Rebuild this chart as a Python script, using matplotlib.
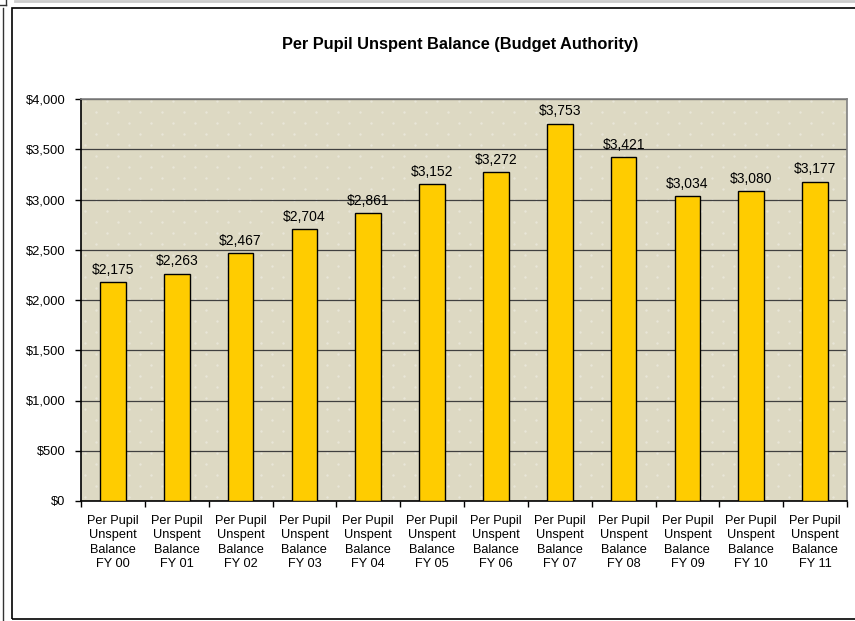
import matplotlib
matplotlib.use("Agg")
import matplotlib.pyplot as plt
import numpy as np
from matplotlib.patches import Rectangle
from matplotlib.lines import Line2D

plt.rcParams['font.family'] = ['Liberation Sans', 'DejaVu Sans']

categories = ["Per Pupil\nUnspent\nBalance\nFY 00", "Per Pupil\nUnspent\nBalance\nFY 01",
              "Per Pupil\nUnspent\nBalance\nFY 02", "Per Pupil\nUnspent\nBalance\nFY 03",
              "Per Pupil\nUnspent\nBalance\nFY 04", "Per Pupil\nUnspent\nBalance\nFY 05",
              "Per Pupil\nUnspent\nBalance\nFY 06", "Per Pupil\nUnspent\nBalance\nFY 07",
              "Per Pupil\nUnspent\nBalance\nFY 08", "Per Pupil\nUnspent\nBalance\nFY 09",
              "Per Pupil\nUnspent\nBalance\nFY 10", "Per Pupil\nUnspent\nBalance\nFY 11"]
values = [2175, 2263, 2467, 2704, 2861, 3152, 3272, 3753, 3421, 3034, 3080, 3177]
yticks = [0, 500, 1000, 1500, 2000, 2500, 3000, 3500, 4000]
ytick_labels = ["$0", "$500", "$1,000", "$1,500", "$2,000", "$2,500", "$3,000", "$3,500", "$4,000"]
title = "Per Pupil Unspent Balance (Budget Authority)"

W, H = 855, 621
fig = plt.figure(figsize=(W / 100, H / 100), dpi=100)

# outer frames
fig.add_artist(Rectangle((12 / W, 1 - 619 / H), 1.2, (619 - 8) / H, transform=fig.transFigure,
                         fill=False, edgecolor='black', linewidth=1.2))
fig.add_artist(Line2D([2.5 / W, 2.5 / W], [0, 1 - 8 / H], transform=fig.transFigure,
                      color='#333333', linewidth=1))
fig.add_artist(Line2D([0, 6 / W], [1 - 4.5 / H, 1 - 4.5 / H], transform=fig.transFigure,
                      color='#333333', linewidth=1))
fig.add_artist(Line2D([6 / W, 6 / W], [1 - 4.5 / H, 1], transform=fig.transFigure,
                      color='#333333', linewidth=1))
fig.add_artist(Line2D([15 / W, 1], [1 - 1 / H, 1 - 1 / H], transform=fig.transFigure,
                      color='#cccccc', linewidth=2))

left, right, top, bottom = 81, 847, 99, 501
ax = fig.add_axes([left / W, 1 - bottom / H, (right - left) / W, (bottom - top) / H])
ax.set_facecolor('#DDD9C3')

# subtle dotted texture
xs, ys = [], []
for r, yy in enumerate(np.arange(0.01, 1.0, 11 / (bottom - top))):
    off = (11 / (right - left)) if r % 2 else 0
    for xx in np.arange(0.005 + off, 1.0, 22 / (right - left)):
        xs.append(xx)
        ys.append(yy)
ax.scatter(xs, ys, s=3, color='white', alpha=0.35, linewidths=0, transform=ax.transAxes, zorder=0.5)

x = np.arange(len(values))
ax.bar(x, values, width=0.4, color='#FFCC00', edgecolor='black', linewidth=1, zorder=3)
for xi, v in zip(x, values):
    ax.annotate(f"${v:,}", (xi, v), xytext=(0, 4), textcoords='offset points',
                ha='center', va='bottom', fontsize=10, color='black', zorder=4)

ax.set_xlim(-0.5, len(values) - 0.5)
ax.set_ylim(0, 4000)
ax.set_yticks(yticks)
ax.set_yticklabels(ytick_labels, fontsize=9.3)
ax.yaxis.grid(True, color='#404040', linewidth=0.9, zorder=1)
ax.set_axisbelow(True)

ax.set_xticks(x)
ax.set_xticklabels(categories, fontsize=9.2, linespacing=1.27)
ax.set_xticks(np.arange(-0.5, len(values) + 0.5, 1), minor=True)
ax.tick_params(axis='x', which='major', length=0, pad=10)
ax.tick_params(axis='x', which='minor', length=4, width=1, color='black')
ax.tick_params(axis='y', length=4, width=1, pad=7)

for s in ['left', 'bottom']:
    ax.spines[s].set_color('black')
    ax.spines[s].set_linewidth(1.2)
for s in ['right', 'top']:
    ax.spines[s].set_color('#808080')
    ax.spines[s].set_linewidth(1.2)

fig.text(460 / W, 1 - 44 / H, title, ha='center', va='center',
         fontsize=11.8, fontweight='bold')

fig.savefig('out.png', dpi=100)
